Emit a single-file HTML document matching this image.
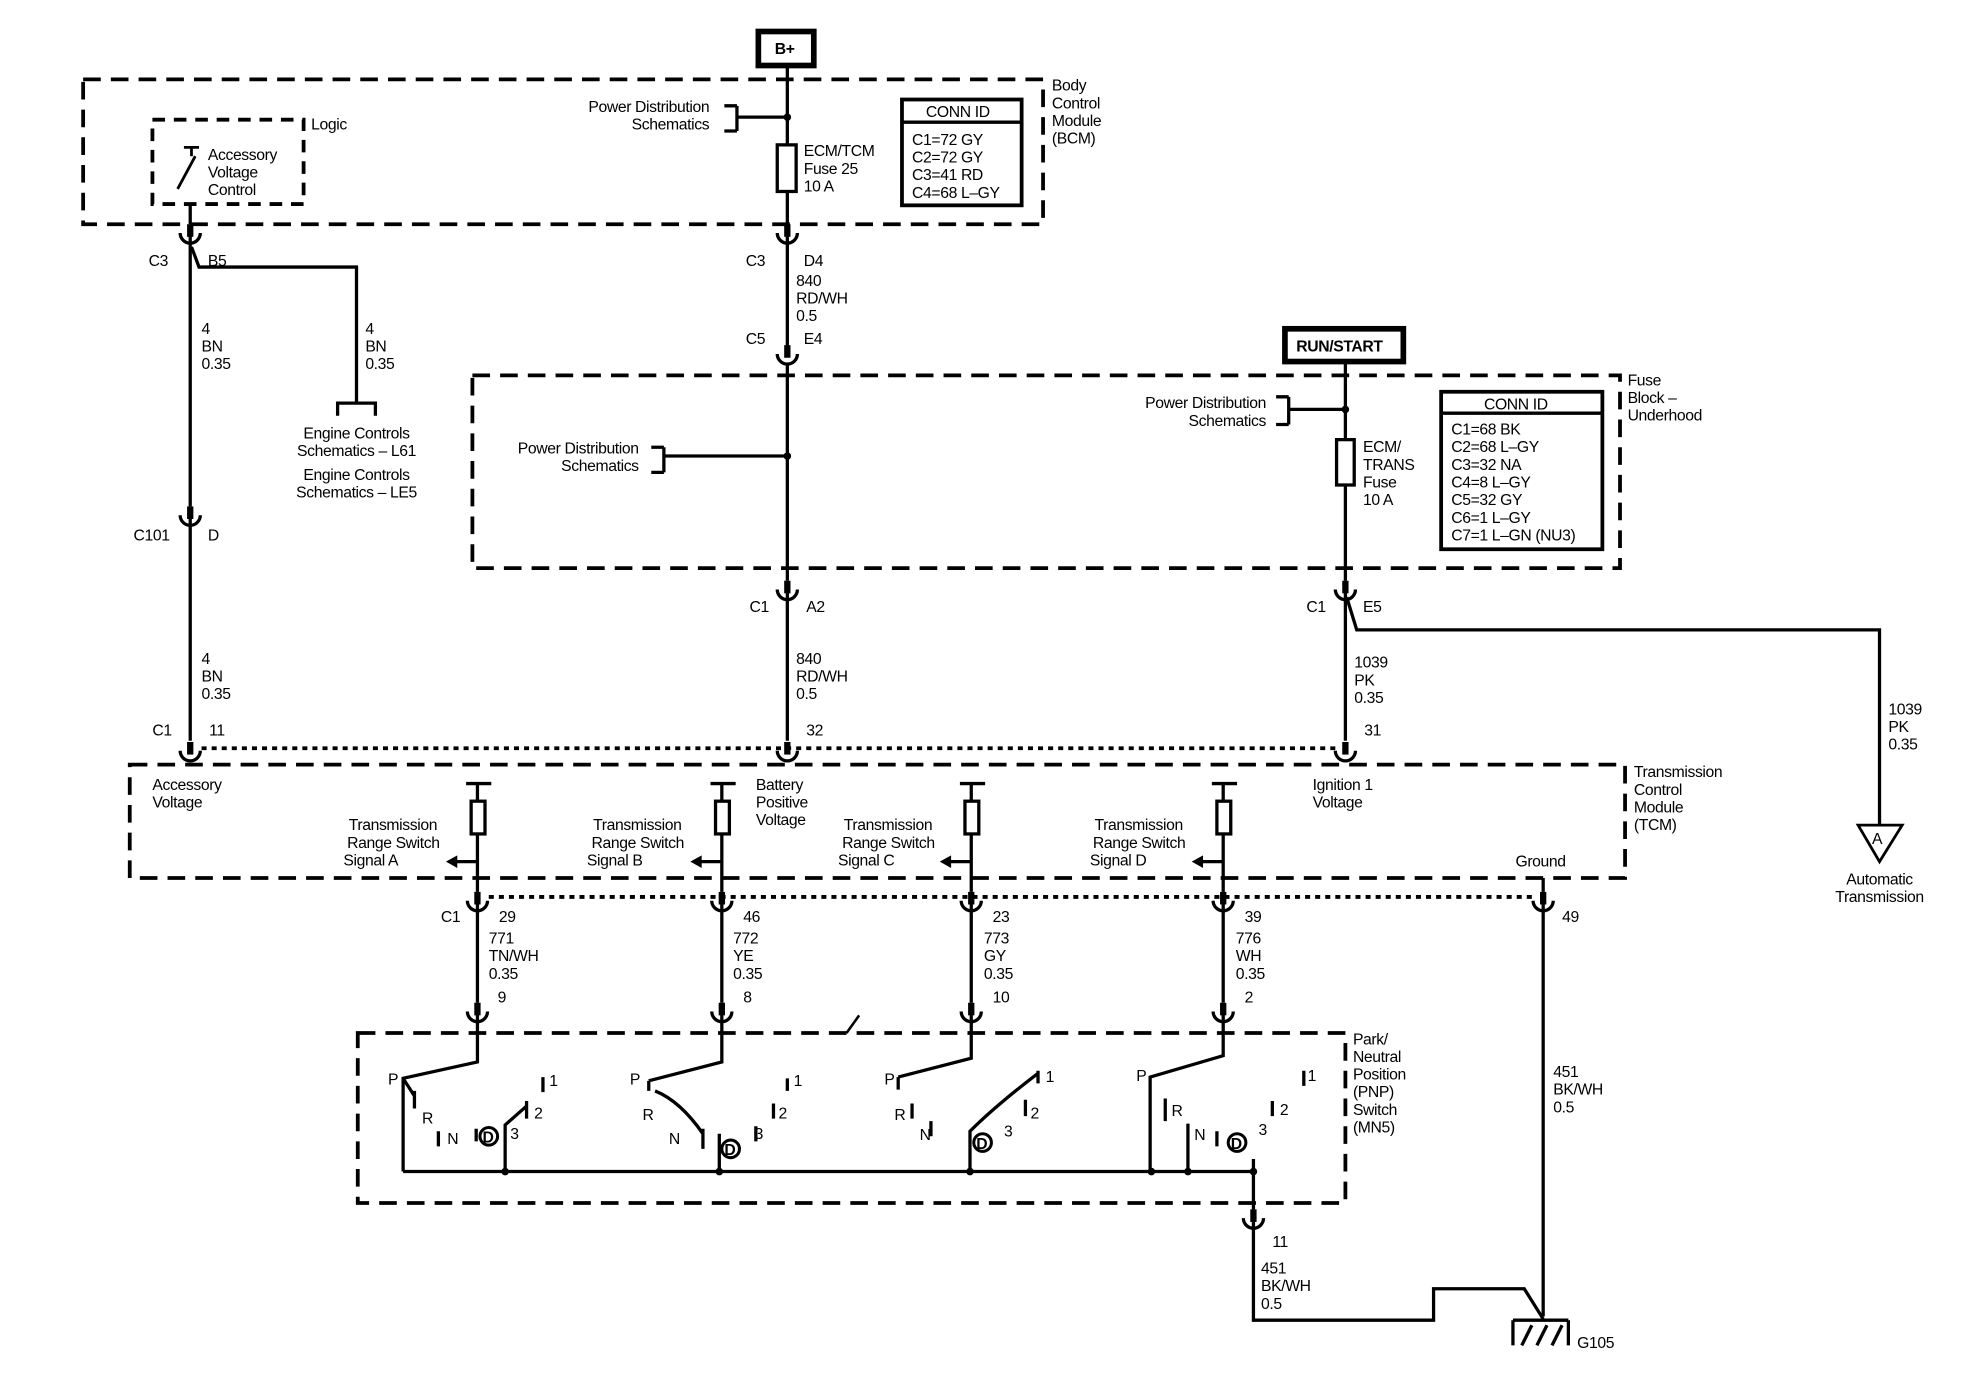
<!DOCTYPE html>
<html><head><meta charset="utf-8"><style>
html,body{margin:0;padding:0;background:#fff;}
svg{display:block}
text{font-family:"Liberation Sans",Arial,sans-serif;font-size:12.5px;fill:#000;}
.t{letter-spacing:-0.3px}
</style></head><body>
<svg width="1974" height="1392" viewBox="0 0 1567 1105" preserveAspectRatio="none" xmlns="http://www.w3.org/2000/svg">
<defs>
<g id="c"><rect x="-2.5" y="-14" width="5" height="10" fill="#000"/><path d="M-8,-7 A8,8 0 0 0 8,-7" fill="none" stroke="#000" stroke-width="2.6"/></g>
</defs>
<g fill="none" stroke="#000" stroke-width="2.6">
<rect x="66" y="63" width="762" height="115" stroke-dasharray="14,8" stroke-width="3"/>
<rect x="121" y="95" width="120" height="67" stroke-dasharray="10,7" stroke-width="3"/>
<rect x="375" y="298" width="911" height="153" stroke-dasharray="14,8" stroke-width="3"/>
<rect x="103" y="607" width="1187" height="90" stroke-dasharray="14,8" stroke-width="3"/>
<rect x="284" y="820" width="784" height="135" stroke-dasharray="14,8" stroke-width="3"/>
<rect x="602" y="25" width="44" height="27" stroke-width="4.5"/>
<rect x="1020" y="261" width="94" height="26" stroke-width="4.5"/>
<path d="M625,52 V178 M625,186 V282 M625,290 V461 M625,469 V588"/>
<path d="M585,84 H575 M585,104 H575 M585,84 V104 M585,93 H625"/>
<rect x="617" y="115" width="15" height="37" fill="#fff"/>
<rect x="716" y="79" width="95" height="84" stroke-width="3"/>
<path d="M716,97 H811"/>
<rect x="1144" y="311" width="128" height="125" stroke-width="3"/>
<path d="M1144,328 H1272"/>
<path d="M151,162 V178 M151,186 V402 M151,410 V588"/>
<path d="M152,196 L158,212 H283 V320 M268,330 V320 H298 V330"/>
<path d="M141,150 L155,124 M146,117 H158 M152,117 V124" stroke-width="2.2"/>
<path d="M527,355 H517 M527,375 H517 M527,355 V375 M527,362 H625"/>
<path d="M1068,287 V461 M1068,469 V588"/>
<path d="M1023,315 H1013 M1023,337 H1013 M1023,315 V337 M1023,325 H1068"/>
<rect x="1061" y="349" width="14" height="36" fill="#fff"/>
<path d="M1069,474 L1077,500 H1492 V655"/>
<path d="M1475,655 H1510 L1492,684 Z" stroke-width="2.2"/>
<path d="M160,594 H1060" stroke-dasharray="4,4" stroke-width="3"/>
<path d="M388,712 H1218" stroke-dasharray="4,4" stroke-width="3"/>
<path d="M370,622 H390 M379,622 V708 M379,716 V796 M379,805 V843 L320,856 V930"/>
<path d="M564,622 H584 M573,622 V708 M573,716 V796 M573,805 V843 L515,858"/>
<path d="M762,622 H782 M771,622 V708 M771,716 V796 M771,805 V840 L713,855"/>
<path d="M962,622 H982 M971,622 V708 M971,716 V796 M971,805 V838 L913,855 V930"/>
<rect x="374" y="636" width="11" height="26" fill="#fff"/>
<rect x="568" y="636" width="11" height="26" fill="#fff"/>
<rect x="766" y="636" width="11" height="26" fill="#fff"/>
<rect x="966" y="636" width="11" height="26" fill="#fff"/>
<path d="M379,684 H360 M573,684 H554 M771,684 H752 M971,684 H952"/>
<path d="M1225,697 V708 M1225,716 V1045"/>
<path d="M320,930 H995 V960 M995,968 V1048 H1138 V1023 H1210 L1225,1047"/>
<path d="M1201,1048 H1245 M1201,1048 V1068 M1245,1048 V1068 M1208,1068 L1216,1052 M1220,1068 L1228,1052 M1232,1068 L1240,1052"/>
<path d="M672,820 L682,806" stroke-width="2"/>
<path d="M320,856 L329,870 M329,866 V880 M348,898 V910 M378,896 V906 M401,930 V893 L418,878 M418,874 V888 M431,855 V867"/>
<path d="M515,858 V866 M520,866 Q540,874 558,900 M558,896 V912 M571,930 V900 M625,856 V866 M614,876 V888 M600,894 V906"/>
<path d="M713,855 V865 M724,876 V888 M739,890 V902 M770,930 V898 Q790,878 824,852 M824,850 V860 M814,873 V886"/>
<path d="M925,872 V890 M943,892 V930 M1010,874 V886 M1035,850 V862 M995,930 V920"/>
<path d="M966,898 V910"/>
</g>
<g fill="none" stroke="#000" stroke-width="2.4">
<circle cx="388" cy="902" r="7"/><circle cx="580" cy="912" r="7"/><circle cx="780" cy="907" r="7"/><circle cx="982" cy="907" r="7"/>
</g>
<g fill="#000">
<circle cx="625" cy="93" r="3"/><circle cx="625" cy="362" r="3"/><circle cx="1068" cy="325" r="3"/>
<circle cx="401" cy="930" r="3"/><circle cx="571" cy="930" r="3"/><circle cx="770" cy="930" r="3"/><circle cx="914" cy="930" r="3"/><circle cx="943" cy="930" r="3"/><circle cx="995" cy="930" r="3"/>
<path d="M354,684 L363,679 V689 Z M548,684 L557,679 V689 Z M746,684 L755,679 V689 Z M946,684 L955,679 V689 Z"/>
</g>
<use href="#c" x="151" y="192"/><use href="#c" x="625" y="192"/><use href="#c" x="625" y="288"/>
<use href="#c" x="151" y="416"/><use href="#c" x="625" y="475"/><use href="#c" x="1068" y="475"/>
<use href="#c" x="151" y="603"/><use href="#c" x="625" y="603"/><use href="#c" x="1068" y="603"/>
<use href="#c" x="379" y="722"/><use href="#c" x="573" y="722"/><use href="#c" x="771" y="722"/><use href="#c" x="971" y="722"/><use href="#c" x="1225" y="722"/>
<use href="#c" x="379" y="810"/><use href="#c" x="573" y="810"/><use href="#c" x="771" y="810"/><use href="#c" x="971" y="810"/>
<use href="#c" x="995" y="974"/>
<g class="t">
<text x="615" y="43" font-weight="bold" font-size="13">B+</text>
<text x="1029" y="279" font-weight="bold" font-size="13">RUN/START</text>
<text x="835" y="72">Body</text><text x="835" y="86">Control</text><text x="835" y="100">Module</text><text x="835" y="114">(BCM)</text>
<text x="563" y="89" text-anchor="end">Power Distribution</text><text x="563" y="103" text-anchor="end">Schematics</text>
<text x="638" y="124">ECM/TCM</text><text x="638" y="138">Fuse 25</text><text x="638" y="152">10 A</text>
<text x="735" y="93">CONN ID</text>
<text x="724" y="115">C1=72 GY</text><text x="724" y="129">C2=72 GY</text><text x="724" y="143">C3=41 RD</text><text x="724" y="157">C4=68 L–GY</text>
<text x="247" y="103">Logic</text>
<text x="165" y="127">Accessory</text><text x="165" y="141">Voltage</text><text x="165" y="155">Control</text>
<text x="118" y="211">C3</text><text x="165" y="211">B5</text>
<text x="592" y="211">C3</text><text x="638" y="211">D4</text>
<text x="632" y="227">840</text><text x="632" y="241">RD/WH</text><text x="632" y="255">0.5</text>
<text x="592" y="273">C5</text><text x="638" y="273">E4</text>
<text x="160" y="265">4</text><text x="160" y="279">BN</text><text x="160" y="293">0.35</text>
<text x="290" y="265">4</text><text x="290" y="279">BN</text><text x="290" y="293">0.35</text>
<text x="283" y="348" text-anchor="middle">Engine Controls</text><text x="283" y="362" text-anchor="middle">Schematics – L61</text>
<text x="283" y="381" text-anchor="middle">Engine Controls</text><text x="283" y="395" text-anchor="middle">Schematics – LE5</text>
<text x="106" y="429">C101</text><text x="165" y="429">D</text>
<text x="1292" y="306">Fuse</text><text x="1292" y="320">Block –</text><text x="1292" y="334">Underhood</text>
<text x="507" y="360" text-anchor="end">Power Distribution</text><text x="507" y="374" text-anchor="end">Schematics</text>
<text x="1005" y="324" text-anchor="end">Power Distribution</text><text x="1005" y="338" text-anchor="end">Schematics</text>
<text x="1082" y="359">ECM/</text><text x="1082" y="373">TRANS</text><text x="1082" y="387">Fuse</text><text x="1082" y="401">10 A</text>
<text x="1178" y="325">CONN ID</text>
<text x="1152" y="345">C1=68 BK</text><text x="1152" y="359">C2=68 L–GY</text><text x="1152" y="373">C3=32 NA</text><text x="1152" y="387">C4=8 L–GY</text><text x="1152" y="401">C5=32 GY</text><text x="1152" y="415">C6=1 L–GY</text><text x="1152" y="429">C7=1 L–GN (NU3)</text>
<text x="595" y="486">C1</text><text x="640" y="486">A2</text>
<text x="1037" y="486">C1</text><text x="1082" y="486">E5</text>
<text x="160" y="527">4</text><text x="160" y="541">BN</text><text x="160" y="555">0.35</text>
<text x="632" y="527">840</text><text x="632" y="541">RD/WH</text><text x="632" y="555">0.5</text>
<text x="1075" y="530">1039</text><text x="1075" y="544">PK</text><text x="1075" y="558">0.35</text>
<text x="1499" y="567">1039</text><text x="1499" y="581">PK</text><text x="1499" y="595">0.35</text>
<text x="1486" y="670">A</text>
<text x="1492" y="702" text-anchor="middle">Automatic</text><text x="1492" y="716" text-anchor="middle">Transmission</text>
<text x="121" y="584">C1</text><text x="166" y="584">11</text><text x="640" y="584">32</text><text x="1083" y="584">31</text>
<text x="1297" y="617">Transmission</text><text x="1297" y="631">Control</text><text x="1297" y="645">Module</text><text x="1297" y="659">(TCM)</text>
<text x="121" y="627">Accessory</text><text x="121" y="641">Voltage</text>
<text x="600" y="627">Battery</text><text x="600" y="641">Positive</text><text x="600" y="655">Voltage</text>
<text x="1042" y="627">Ignition 1</text><text x="1042" y="641">Voltage</text>
<text x="1203" y="688">Ground</text>
<text x="347" y="659" text-anchor="end">Transmission</text><text x="349" y="673" text-anchor="end">Range Switch</text><text x="316" y="687" text-anchor="end">Signal A</text>
<text x="541" y="659" text-anchor="end">Transmission</text><text x="543" y="673" text-anchor="end">Range Switch</text><text x="510" y="687" text-anchor="end">Signal B</text>
<text x="740" y="659" text-anchor="end">Transmission</text><text x="742" y="673" text-anchor="end">Range Switch</text><text x="710" y="687" text-anchor="end">Signal C</text>
<text x="939" y="659" text-anchor="end">Transmission</text><text x="941" y="673" text-anchor="end">Range Switch</text><text x="910" y="687" text-anchor="end">Signal D</text>
<text x="350" y="732">C1</text><text x="396" y="732">29</text><text x="590" y="732">46</text><text x="788" y="732">23</text><text x="988" y="732">39</text><text x="1240" y="732">49</text>
<text x="388" y="749">771</text><text x="388" y="763">TN/WH</text><text x="388" y="777">0.35</text>
<text x="582" y="749">772</text><text x="582" y="763">YE</text><text x="582" y="777">0.35</text>
<text x="781" y="749">773</text><text x="781" y="763">GY</text><text x="781" y="777">0.35</text>
<text x="981" y="749">776</text><text x="981" y="763">WH</text><text x="981" y="777">0.35</text>
<text x="395" y="796">9</text><text x="590" y="796">8</text><text x="788" y="796">10</text><text x="988" y="796">2</text>
<text x="1074" y="829">Park/</text><text x="1074" y="843">Neutral</text><text x="1074" y="857">Position</text><text x="1074" y="871">(PNP)</text><text x="1074" y="885">Switch</text><text x="1074" y="899">(MN5)</text>
<text x="1233" y="855">451</text><text x="1233" y="869">BK/WH</text><text x="1233" y="883">0.5</text>
<text x="1010" y="990">11</text>
<text x="1001" y="1011">451</text><text x="1001" y="1025">BK/WH</text><text x="1001" y="1039">0.5</text>
<text x="1252" y="1070">G105</text>
<text x="308" y="861">P</text><text x="335" y="892">R</text><text x="355" y="908">N</text><text x="405" y="904">3</text><text x="424" y="888">2</text><text x="436" y="862">1</text>
<text x="500" y="861">P</text><text x="510" y="889">R</text><text x="531" y="908">N</text><text x="599" y="904">3</text><text x="618" y="888">2</text><text x="630" y="862">1</text>
<text x="702" y="861">P</text><text x="710" y="889">R</text><text x="730" y="905">N</text><text x="797" y="902">3</text><text x="818" y="888">2</text><text x="830" y="859">1</text>
<text x="902" y="858">P</text><text x="930" y="886">R</text><text x="948" y="905">N</text><text x="999" y="901">3</text><text x="1016" y="885">2</text><text x="1038" y="858">1</text>
<text x="383" y="907" font-size="10" font-weight="bold">D</text><text x="575" y="917" font-size="10" font-weight="bold">D</text><text x="775" y="912" font-size="10" font-weight="bold">D</text><text x="977" y="912" font-size="10" font-weight="bold">D</text>
</g>
</svg>
</body></html>
